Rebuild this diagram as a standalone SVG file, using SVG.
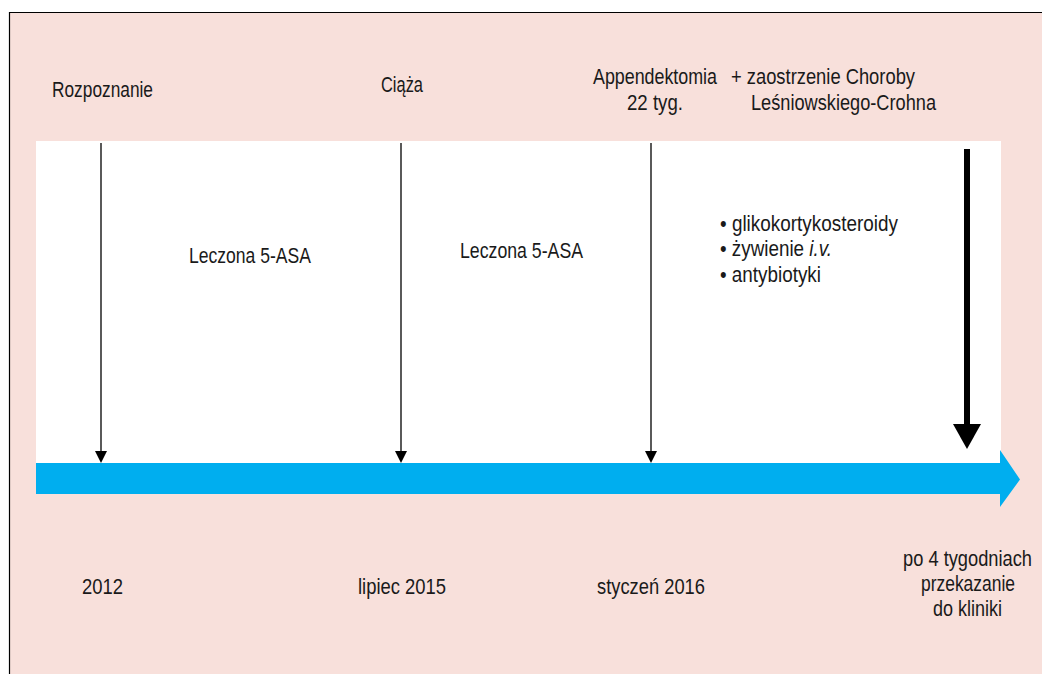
<svg xmlns="http://www.w3.org/2000/svg" width="1042" height="674" viewBox="0 0 1042 674">
<style>
text{font-family:"Liberation Sans",Arial,sans-serif;font-size:22px;fill:#1a1a1a}
.thin{stroke:#000;stroke-width:1.3;fill:none}
</style>
<rect id="background" x="10" y="13" width="1040" height="670" fill="#F8E0DB"/>
<path d="M9.5,674 V12.5 H1042" fill="none" stroke="#000" stroke-width="1.2"/>
<rect id="panel" x="36" y="141" width="965" height="322" fill="#fff"/>
<g id="timeline">
<path d="M36,463 H1000 V450 L1020,479.5 L1000,507 V494 H36 Z" fill="#00AEEF"/>
</g>
<g id="connectors">
<line class="thin" x1="101" y1="143" x2="101" y2="452"/>
<path d="M95,451 L107,451 L101,463 Z"/>
<line class="thin" x1="401" y1="143" x2="401" y2="452"/>
<path d="M395,451 L407,451 L401,463 Z"/>
<line class="thin" x1="651" y1="143" x2="651" y2="452"/>
<path d="M645,451 L657,451 L651,463 Z"/>
<line x1="967" y1="149" x2="967" y2="426" stroke="#000" stroke-width="6"/>
<path d="M953,424 L981,424 L967,449 Z"/>
</g>
<g id="rozpoznanie"><text x="52" y="97" textLength="101" lengthAdjust="spacingAndGlyphs">Rozpoznanie</text></g>
<g id="ciaza"><text x="381" y="92" textLength="42" lengthAdjust="spacingAndGlyphs">Ciąża</text></g>
<g id="appendektomia">
<text x="593" y="84" textLength="124" lengthAdjust="spacingAndGlyphs">Appendektomia</text>
<text x="627" y="110" textLength="56" lengthAdjust="spacingAndGlyphs">22 tyg.</text>
</g>
<g id="zaostrzenie">
<text x="731" y="84" textLength="184" lengthAdjust="spacingAndGlyphs">+ zaostrzenie Choroby</text>
<text x="751" y="110" textLength="185" lengthAdjust="spacingAndGlyphs">Leśniowskiego-Crohna</text>
</g>
<g id="leczona1"><text x="189" y="263" textLength="122" lengthAdjust="spacingAndGlyphs">Leczona 5-ASA</text></g>
<g id="leczona2"><text x="460" y="258" textLength="123" lengthAdjust="spacingAndGlyphs">Leczona 5-ASA</text></g>
<g id="leczenie">
<text x="720" y="231" textLength="178" lengthAdjust="spacingAndGlyphs">• glikokortykosteroidy</text>
<text x="720" y="256" textLength="112" lengthAdjust="spacingAndGlyphs">• żywienie <tspan font-style="italic">i.v.</tspan></text>
<text x="720" y="282" textLength="101" lengthAdjust="spacingAndGlyphs">• antybiotyki</text>
</g>
<g id="d2012"><text x="82" y="594" textLength="41" lengthAdjust="spacingAndGlyphs">2012</text></g>
<g id="d2015"><text x="358" y="594" textLength="88" lengthAdjust="spacingAndGlyphs">lipiec 2015</text></g>
<g id="d2016"><text x="597" y="594" textLength="108" lengthAdjust="spacingAndGlyphs">styczeń 2016</text></g>
<g id="po4">
<text x="903" y="566" textLength="129" lengthAdjust="spacingAndGlyphs">po 4 tygodniach</text>
<text x="921" y="591" textLength="94" lengthAdjust="spacingAndGlyphs">przekazanie</text>
<text x="933" y="616" textLength="69" lengthAdjust="spacingAndGlyphs">do kliniki</text>
</g>
</svg>
